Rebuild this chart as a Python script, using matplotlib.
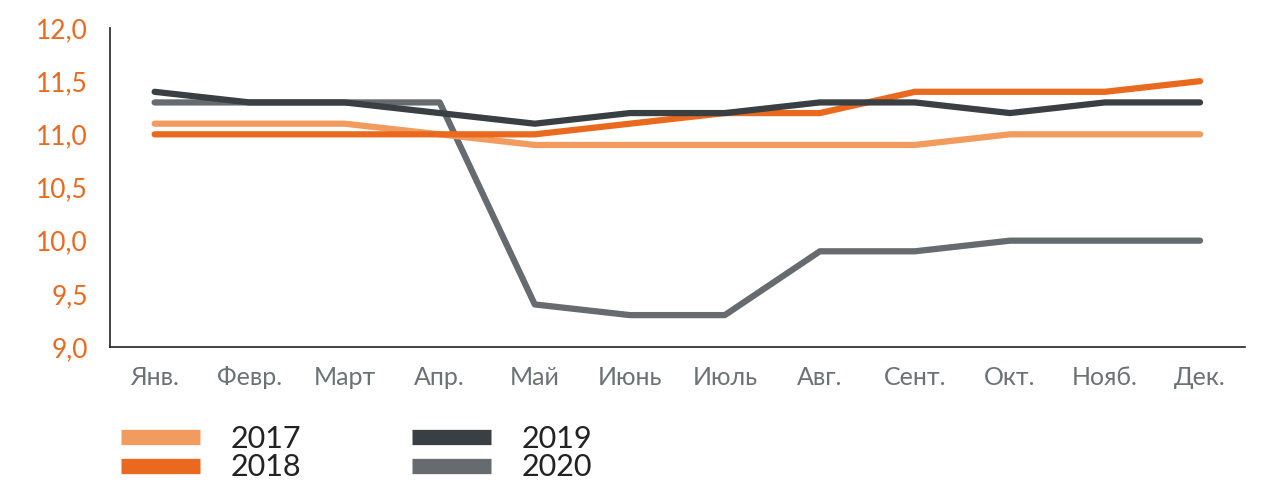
import numpy as np
import matplotlib.pyplot as plt
from matplotlib.lines import Line2D

months = ['Янв.', 'Февр.', 'Март', 'Апр.', 'Май', 'Июнь', 'Июль',
          'Авг.', 'Сент.', 'Окт.', 'Нояб.', 'Дек.']
years = ['2017', '2018', '2019', '2020']
v2017 = [11.1, 11.1, 11.1, 11.0, 10.9, 10.9, 10.9, 10.9, 10.9, 11.0, 11.0, 11.0]
v2018 = [11.0, 11.0, 11.0, 11.0, 11.0, 11.1, 11.2, 11.2, 11.4, 11.4, 11.4, 11.5]
v2019 = [11.4, 11.3, 11.3, 11.2, 11.1, 11.2, 11.2, 11.3, 11.3, 11.2, 11.3, 11.3]
v2020 = [11.3, 11.3, 11.3, 11.3, 9.4, 9.3, 9.3, 9.9, 9.9, 10.0, 10.0, 10.0]
colors = ['#F29B5F', '#E96A1E', '#393F42', '#656B6E']

plt.rcParams['font.family'] = ['Lato', 'DejaVu Sans']

fig = plt.figure(figsize=(12.74, 4.87), dpi=100)
ax = fig.add_axes([0.0863, 0.2875, 0.8907, 0.655])

x = np.arange(len(months))
series = [v2017, v2018, v2019, v2020]
# draw 2020 first so the others sit on top of it
order = [3, 0, 1, 2]
for i in order:
    ax.plot(x, series[i], color=colors[i], lw=4.5, solid_capstyle='round',
            solid_joinstyle='round')

ax.set_xlim(-0.47, 11.47)
ax.set_ylim(9.0, 12.0)
ax.set_yticks(np.arange(9.0, 12.01, 0.5))
ax.set_yticklabels([f'{v:.1f}'.replace('.', ',') for v in np.arange(9.0, 12.01, 0.5)],
                   color='#E96A1E', fontsize=19)
ax.set_xticks(x)
ax.set_xticklabels(months, color='#6B7275', fontsize=18)
ax.tick_params(axis='both', length=0)
ax.tick_params(axis='y', pad=16)
ax.tick_params(axis='x', pad=14)

for s in ['top', 'right']:
    ax.spines[s].set_visible(False)
ax.spines['left'].set_color('#222222')
ax.spines['bottom'].set_color('#222222')
ax.spines['left'].set_linewidth(1.2)
ax.spines['bottom'].set_linewidth(1.2)

handles = [Line2D([], [], color=c, lw=11, solid_capstyle='butt') for c in colors]
leg = fig.legend(handles, years, loc='upper left', bbox_to_anchor=(0.095, 0.128),
                 ncol=2, frameon=False, handlelength=2.6,
                 handletextpad=1.0, columnspacing=3.6, labelspacing=0.02,
                 borderaxespad=0, borderpad=0, prop={'size': 22})
for t in leg.get_texts():
    t.set_color('#222222')

fig.savefig('out.png', dpi=100)
